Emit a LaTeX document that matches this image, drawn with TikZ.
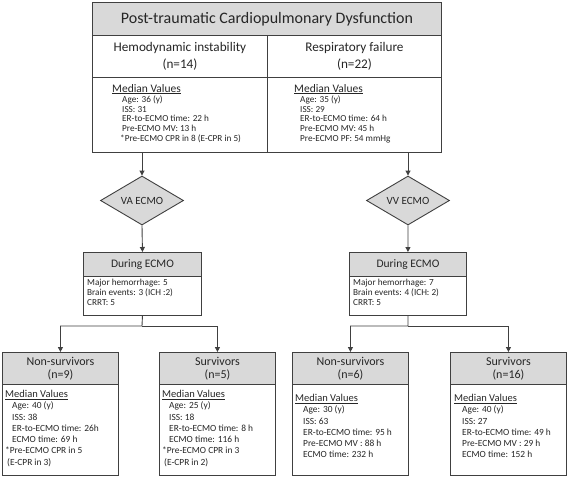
\documentclass[tikz,border=0pt]{standalone}
\usepackage{fontspec}
\setmainfont{Carlito}
\usetikzlibrary{shapes.geometric,arrows.meta,positioning}

\definecolor{boxgray}{HTML}{D9D9D9}
\definecolor{linegray}{HTML}{404040}
\definecolor{txtgray}{HTML}{262626}

\tikzset{
  cell/.style={draw=linegray, line width=0.9pt, rectangle, inner sep=0pt, text=txtgray, align=center, anchor=north west},
  headcell/.style={cell, fill=boxgray},
  ecmo/.style={draw=linegray, line width=0.9pt, diamond, fill=boxgray, aspect=1.7, inner sep=0pt,
    minimum width=83pt, minimum height=49pt, text=txtgray, font=\fontsize{11}{13}\selectfont},
  arrow/.style={draw=linegray, line width=0.9pt, -{Triangle[width=5pt,length=5pt]}},
  listtext/.style={anchor=north west, inner sep=0pt, align=left, text=txtgray},
  toplist/.style={listtext, font=\fontsize{9.2}{9.6}\selectfont},
  botlist/.style={listtext, font=\fontsize{9.4}{11.3}\selectfont},
}
\newcommand{\medhead}[1]{{\fontsize{#1}{12}\selectfont\underline{Median Values}}}

\begin{document}
\begin{tikzpicture}[x=1pt, y=-1pt]
  \fill[white] (0,0) rectangle (567,477);
  \useasboundingbox (0,0) rectangle (567,477);

  % top table
  \node (title) [headcell, minimum width=349pt, minimum height=33pt, font=\fontsize{16}{18}\selectfont] at (92,2) {Post-traumatic Cardiopulmonary Dysfunction};
  \node (hemo) [cell, minimum width=175pt, minimum height=42pt, font=\fontsize{13.2}{17}\selectfont] at (92,35) {Hemodynamic instability\\(n=14)};
  \node (resp) [cell, minimum width=174pt, minimum height=42pt, font=\fontsize{13.2}{17}\selectfont] at (267,35) {Respiratory failure\\(n=22)};
  \node (hemomed) [cell, minimum width=175pt, minimum height=75pt] at (92,77) {};
  \node (respmed) [cell, minimum width=174pt, minimum height=75pt] at (267,77) {};
  \node (hemolist) [toplist] at (112,84) {\medhead{11.5}\\[1pt]
    \hspace*{10pt}Age: 36 (y)\\ \hspace*{10pt}ISS: 31\\ \hspace*{10pt}ER-to-ECMO time: 22 h\\
    \hspace*{10pt}Pre-ECMO MV: 13 h\\ \hspace*{8pt}*Pre-ECMO CPR in 8 (E-CPR in 5)};
  \node (resplist) [toplist] at (294,84) {\medhead{11.5}\\[1pt]
    \hspace*{6pt}Age: 35 (y)\\ \hspace*{6pt}ISS: 29\\ \hspace*{6pt}ER-to-ECMO time: 64 h\\
    \hspace*{6pt}Pre-ECMO MV: 45 h\\ \hspace*{6pt}Pre-ECMO PF: 54 mmHg};

  % ECMO modes
  \node (va) [ecmo] at (142,200.5) {VA ECMO};
  \node (vv) [ecmo] at (408,200.5) {VV ECMO};
  \draw[arrow] (hemomed.south -| va.north) -- (va.north);
  \draw[arrow] (respmed.south -| vv.north) -- (vv.north);

  % during ECMO
  \node (vadur) [headcell, minimum width=118pt, minimum height=24pt, font=\fontsize{11.5}{13}\selectfont] at (83,252) {During ECMO};
  \node (vabody) [cell, minimum width=118pt, minimum height=39pt] at (83,276) {};
  \node (vvdur) [headcell, minimum width=117pt, minimum height=24pt, font=\fontsize{11.5}{13}\selectfont] at (349,252) {During ECMO};
  \node (vvbody) [cell, minimum width=117pt, minimum height=39pt] at (349,276) {};
  \node (vatext) [listtext, font=\fontsize{9.2}{10}\selectfont] at (87,279) {Major hemorrhage: 5\\Brain events: 3 (ICH :2)\\CRRT: 5};
  \node (vvtext) [listtext, font=\fontsize{9.2}{10}\selectfont] at (353,279) {Major hemorrhage: 7\\Brain events: 4 (ICH: 2)\\CRRT: 5};
  \draw[arrow] (va.south) -- (vadur.north);
  \draw[arrow] (vv.south) -- (vvdur.north);

  % outcome boxes
  \node (vans) [headcell, minimum width=116pt, minimum height=32pt, font=\fontsize{12}{13}\selectfont] at (2,352) {Non-survivors\\(n=9)};
  \node (vasv) [headcell, minimum width=116pt, minimum height=32pt, font=\fontsize{12}{13}\selectfont] at (159,352) {Survivors\\(n=5)};
  \node (vvns) [headcell, minimum width=116pt, minimum height=32pt, font=\fontsize{12}{13}\selectfont] at (292,352) {Non-survivors\\(n=6)};
  \node (vvsv) [headcell, minimum width=116pt, minimum height=32pt, font=\fontsize{12}{13}\selectfont] at (450,352) {Survivors\\(n=16)};
  \node (vansbody) [cell, minimum width=116pt, minimum height=91pt] at (2,384) {};
  \node (vasvbody) [cell, minimum width=116pt, minimum height=91pt] at (159,384) {};
  \node (vvnsbody) [cell, minimum width=116pt, minimum height=91pt] at (292,384) {};
  \node (vvsvbody) [cell, minimum width=116pt, minimum height=91pt] at (450,384) {};

  \node (vanslist) [botlist] at (5,390) {\medhead{10.5}\\
    \hspace*{7pt}Age: 40 (y)\\ \hspace*{7pt}ISS: 38\\ \hspace*{7pt}ER-to-ECMO time: 26h\\
    \hspace*{7pt}ECMO time: 69 h\\ *Pre-ECMO CPR in 5\\ \hspace*{2pt}(E-CPR in 3)};
  \node (vasvlist) [botlist] at (162,390) {\medhead{10.5}\\
    \hspace*{7pt}Age: 25 (y)\\ \hspace*{7pt}ISS: 18\\ \hspace*{7pt}ER-to-ECMO time: 8 h\\
    \hspace*{7pt}ECMO time: 116 h\\ *Pre-ECMO CPR in 3\\ \hspace*{2pt}(E-CPR in 2)};
  \node (vvnslist) [botlist] at (295,394) {\medhead{10.5}\\
    \hspace*{8pt}Age: 30 (y)\\ \hspace*{8pt}ISS: 63\\ \hspace*{8pt}ER-to-ECMO time: 95 h\\
    \hspace*{8pt}Pre-ECMO MV : 88 h\\ \hspace*{8pt}ECMO time: 232 h};
  \node (vvsvlist) [botlist] at (454,394) {\medhead{10.5}\\
    \hspace*{8pt}Age: 40 (y)\\ \hspace*{8pt}ISS: 27\\ \hspace*{8pt}ER-to-ECMO time: 49 h\\
    \hspace*{8pt}Pre-ECMO MV : 29 h\\ \hspace*{8pt}ECMO time: 152 h};

  % splits
  \coordinate (vasplit) at (142,326);
  \coordinate (vvsplit) at (408,326);
  \draw[arrow] (vabody.south) -- (vasplit) -| (vans.north);
  \draw[arrow] (vasplit) -| (vasv.north);
  \draw[arrow] (vvbody.south) -- (vvsplit) -| (vvns.north);
  \draw[arrow] (vvsplit) -| (vvsv.north);
\end{tikzpicture}
\end{document}
